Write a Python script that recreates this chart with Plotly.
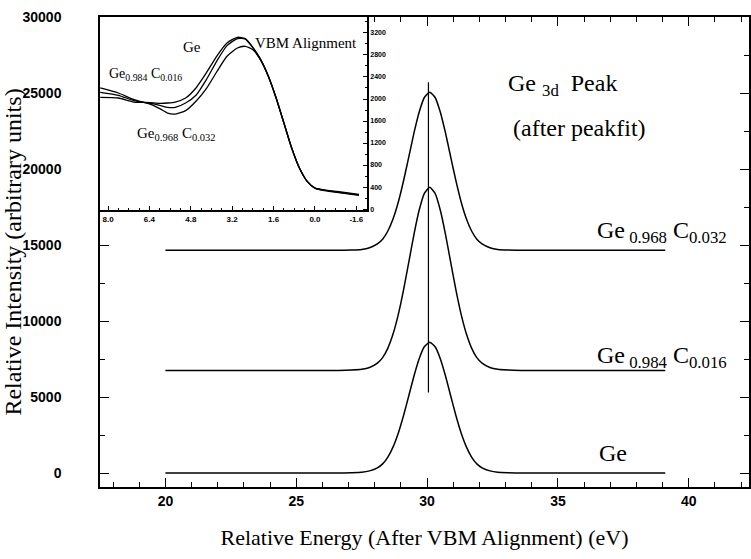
import plotly.graph_objects as go

# ---------------- main panel data (Ge 3d peaks after peak fit) ----------------
energy = [20.0, 26.6, 27.1, 27.5, 27.8, 28.1, 28.3, 28.5, 28.7, 28.9, 29.1, 29.3, 29.5,
          29.7, 29.9, 30.1, 30.3, 30.5, 30.7, 30.9, 31.1, 31.3, 31.5, 31.7, 31.9,
          32.1, 32.4, 32.7, 33.1, 33.6, 39.1]
ge = [0, 0, 20, 50, 140, 340, 600, 1050, 1720, 2630, 3780, 5080, 6400,
      7540, 8320, 8600, 8320, 7540, 6400, 5080, 3780, 2630, 1720, 1050, 600,
      340, 140, 50, 20, 0, 0]
ge984 = [6750, 6750, 6770, 6820, 6940, 7230, 7590, 8220, 9160, 10440, 12050, 13870, 15720,
         17320, 18410, 18800, 18410, 17320, 15720, 13870, 12050, 10440, 9160, 8220, 7590,
         7230, 6940, 6820, 6770, 6750, 6750]
ge968 = [14650, 14650, 14670, 14710, 14820, 15070, 15380, 15920, 16730, 17830, 19230, 20800, 22390,
         23770, 24720, 25050, 24720, 23770, 22390, 20800, 19230, 17830, 16730, 15920, 15380,
         15070, 14820, 14710, 14670, 14650, 14650]
marker_x = [30.05, 30.05]
marker_y = [5300, 25700]

# ---------------- inset data (valence band, VBM alignment) ----------------
vb_energy = [8.3, 7.6, 7.0, 6.4, 6.0, 5.7, 5.4, 5.0, 4.6, 4.2, 3.8, 3.4, 3.0,
             2.7, 2.4, 2.1, 1.8, 1.5, 1.2, 0.9, 0.6, 0.3, 0.0, -0.5, -1.0, -1.7]
vb_ge = [2030, 2018, 1945, 1935, 1921, 1927, 1945, 2018, 2200, 2473, 2776, 3018, 3121,
         3097, 2939, 2720, 2412, 2018, 1564, 1109, 745, 503, 382, 340, 310, 265]
vb_ge984 = [2121, 2067, 1970, 1925, 1885, 1848, 1848, 1927, 2067, 2351, 2685, 2970, 3097,
            3091, 2930, 2715, 2412, 2018, 1564, 1109, 745, 503, 382, 333, 300, 258]
vb_ge968 = [2200, 2109, 1988, 1910, 1824, 1745, 1727, 1788, 1958, 2188, 2491, 2776, 2927,
            2958, 2897, 2705, 2405, 2015, 1564, 1109, 745, 503, 382, 325, 295, 250]

inset_tickvals = [8.0, 6.4, 4.8, 3.2, 1.6, 0.0, -1.6]
inset_ticktext = ["8.0", "6.4", "4.8", "3.2", "1.6", "0.0", "-1.6"]
inset_yticks = [0, 400, 800, 1200, 1600, 2000, 2400, 2800, 3200]

serif = "Liberation Serif"
sans = "Liberation Sans"

fig = go.Figure()
for ys in (ge, ge984, ge968):
    fig.add_trace(go.Scatter(x=energy, y=ys, mode="lines",
                             line=dict(color="black", width=1.5, shape="spline", smoothing=0.5),
                             showlegend=False, hoverinfo="skip"))
fig.add_trace(go.Scatter(x=marker_x, y=marker_y, mode="lines",
                         line=dict(color="black", width=1.2),
                         showlegend=False, hoverinfo="skip"))
for ys in (vb_ge, vb_ge984, vb_ge968):
    fig.add_trace(go.Scatter(x=vb_energy, y=ys, mode="lines",
                             line=dict(color="black", width=1.3, shape="spline", smoothing=0.6),
                             xaxis="x2", yaxis="y2",
                             showlegend=False, hoverinfo="skip"))

axis_common = dict(showline=True, linecolor="black", linewidth=1.5,
                   ticks="inside", tickcolor="black", showgrid=False,
                   zeroline=False)

fig.update_layout(
    width=751, height=559,
    margin=dict(l=100, r=0, t=17, b=72),
    paper_bgcolor="white", plot_bgcolor="white",
    xaxis=dict(**axis_common, range=[17.5, 42.3], dtick=5, tick0=0,
               ticklen=9, tickwidth=1.2, mirror="ticks",
               minor=dict(dtick=1, ticklen=5, ticks="inside", tickcolor="black"),
               tickfont=dict(family=sans, size=14, color="black", weight="bold"),
               title=dict(text="Relative Energy (After VBM Alignment) (eV)",
                          font=dict(family=serif, size=22, color="black"),
                          standoff=22)),
    yaxis=dict(**axis_common, range=[-920, 30000], dtick=5000, tick0=0,
               tickformat="d",
               ticklen=9, tickwidth=1.2, mirror="ticks",
               minor=dict(dtick=2500, ticklen=5, ticks="inside", tickcolor="black"),
               ticklabelstandoff=34,
               tickfont=dict(family=sans, size=14, color="black", weight="bold"),
               title=dict(text="Relative Intensity (arbitrary units)",
                          font=dict(family=serif, size=24, color="black"),
                          standoff=0)),
    xaxis2=dict(**axis_common, domain=[0, 0.4117], anchor="y2",
                range=[8.31, -2.02], tickvals=inset_tickvals, ticktext=inset_ticktext,
                ticklen=4, tickwidth=1,
                minor=dict(dtick=0.4, tick0=0, ticklen=2, ticks="inside", tickcolor="black"),
                tickfont=dict(family=sans, size=8, color="black", weight="bold")),
    yaxis2=dict(**axis_common, domain=[0.589, 1], anchor="x2", side="right",
                range=[-20, 3490], tickvals=inset_yticks, ticklen=4, tickwidth=1,
                minor=dict(dtick=200, ticklen=2, ticks="inside", tickcolor="black"),
                tickfont=dict(family=sans, size=7, color="black", weight="bold")),
)

main_font = dict(family=serif, size=24, color="black")
inset_font = dict(family=serif, size=15, color="black")
annots = [
    dict(x=33.0, y=25500, xref="x", yref="y", text="Ge <sub>3d</sub>  Peak",
         xanchor="left", yanchor="middle", font=main_font),
    dict(x=33.2, y=22700, xref="x", yref="y", text="(after peakfit)",
         xanchor="left", yanchor="middle", font=main_font),
    dict(x=41.55, y=15850, xref="x", yref="y",
         text="Ge<sub> 0.968</sub> C<sub>0.032</sub>",
         xanchor="right", yanchor="middle", font=main_font),
    dict(x=41.55, y=7630, xref="x", yref="y",
         text="Ge<sub> 0.984</sub> C<sub>0.016</sub>",
         xanchor="right", yanchor="middle", font=main_font),
    dict(x=37.1, y=1316, xref="x", yref="y", text="Ge",
         xanchor="center", yanchor="middle", font=main_font),
    dict(x=4.76, y=2950, xref="x2", yref="y2", text="Ge",
         xanchor="center", yanchor="middle", font=inset_font),
    dict(x=2.41, y=3020, xref="x2", yref="y2", text="VBM Alignment",
         xanchor="left", yanchor="middle", font=inset_font),
    dict(x=8.04, y=2445, xref="x2", yref="y2",
         text="Ge<sub>0.984</sub> C<sub>0.016</sub>",
         xanchor="left", yanchor="middle", font=dict(family=serif, size=14, color="black")),
    dict(x=6.96, y=1366, xref="x2", yref="y2",
         text="Ge<sub>0.968</sub> C<sub>0.032</sub>",
         xanchor="left", yanchor="middle", font=inset_font),
]
for a in annots:
    a["showarrow"] = False
    fig.add_annotation(**a)

fig.write_html("out.html")
